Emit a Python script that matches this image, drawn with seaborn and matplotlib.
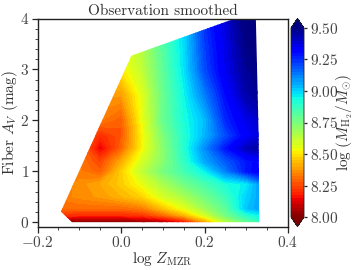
import numpy as np
import matplotlib
matplotlib.use("Agg")
import matplotlib.pyplot as plt
import seaborn as sns
from matplotlib.patches import Polygon

metallicity = [-0.15, -0.10, -0.05, 0.00, 0.05, 0.10, 0.15, 0.20, 0.25, 0.30, 0.35]
extinction = [0.0, 0.14, 0.27, 0.5, 0.75, 1.0, 1.2, 1.45, 1.7, 2.0, 2.5, 3.0, 3.5, 4.0]
row_00 = [8.00, 8.00, 8.00, 8.00, 8.02, 8.05, 8.15, 8.38, 8.62, 8.78, 8.90]
row_01 = [8.22, 8.20, 8.20, 8.20, 8.22, 8.30, 8.42, 8.58, 8.76, 8.90, 8.98]
row_02 = [8.30, 8.30, 8.30, 8.30, 8.33, 8.44, 8.55, 8.68, 8.80, 9.02, 9.10]
row_03 = [8.33, 8.36, 8.38, 8.42, 8.47, 8.58, 8.66, 8.76, 8.86, 9.00, 9.10]
row_04 = [8.33, 8.36, 8.40, 8.46, 8.55, 8.66, 8.76, 8.84, 8.92, 8.96, 9.15]
row_05 = [8.33, 8.33, 8.28, 8.46, 8.62, 8.75, 8.85, 8.95, 9.12, 9.28, 9.36]
row_06 = [8.33, 8.33, 8.24, 8.40, 8.58, 8.72, 8.88, 9.06, 9.18, 9.28, 9.34]
row_07 = [8.33, 8.33, 8.13, 8.29, 8.52, 8.72, 8.90, 9.10, 9.28, 9.42, 9.46]
row_08 = [8.33, 8.33, 8.20, 8.27, 8.52, 8.74, 8.90, 9.04, 9.20, 9.33, 9.40]
row_09 = [8.33, 8.33, 8.33, 8.28, 8.54, 8.78, 8.92, 9.03, 9.25, 9.36, 9.42]
row_10 = [8.33, 8.33, 8.38, 8.38, 8.56, 8.78, 8.94, 9.12, 9.30, 9.44, 9.50]
row_11 = [8.40, 8.45, 8.50, 8.50, 8.62, 8.80, 8.97, 9.20, 9.35, 9.47, 9.52]
row_12 = [8.50, 8.55, 8.55, 8.55, 8.65, 8.82, 8.98, 9.22, 9.36, 9.50, 9.55]
row_13 = [8.55, 8.55, 8.55, 8.55, 8.65, 8.85, 9.00, 9.24, 9.38, 9.52, 9.58]
grid_values = [row_00, row_01, row_02, row_03, row_04, row_05, row_06,
               row_07, row_08, row_09, row_10, row_11, row_12, row_13]

boundary_x = [-0.144, -0.117, 0.331, 0.330, 0.323, 0.273, 0.025]
boundary_y = [0.21, 0.0, 0.0, 1.6, 4.0, 4.0, 3.27]

x_ticks = [-0.2, 0.0, 0.2, 0.4]
x_tick_labels = ["$-0.2$", "$0.0$", "$0.2$", "$0.4$"]
y_ticks = [0, 1, 2, 3, 4]
y_tick_labels = ["$0$", "$1$", "$2$", "$3$", "$4$"]
cbar_ticks = [8.0, 8.25, 8.5, 8.75, 9.0, 9.25, 9.5]
cbar_tick_labels = ["$8.00$", "$8.25$", "$8.50$", "$8.75$", "$9.00$", "$9.25$", "$9.50$"]

sns.set_theme(style="ticks")
plt.rcParams.update({
    "font.family": ["cmr10", "DejaVu Serif"],
    "mathtext.fontset": "cm",
    "axes.formatter.use_mathtext": True,
    "text.color": "#333333",
    "axes.labelcolor": "#333333",
    "xtick.labelcolor": "#444444",
    "ytick.labelcolor": "#444444",
    "axes.edgecolor": "#222222",
    "axes.linewidth": 1.0,
})

fig = plt.figure(figsize=(3.6, 2.7), dpi=100)
ax = fig.add_axes([37.5 / 360, 43.5 / 270, 250.5 / 360, 208.0 / 270])
cax = fig.add_axes([291 / 360, 43.5 / 270, 13 / 360, 208.0 / 270])

cmap = sns.color_palette("jet_r", as_cmap=True)
levels = np.linspace(8.0, 9.5, 61)
cs = ax.contourf(metallicity, extinction, np.array(grid_values), levels=levels,
                 cmap=cmap, extend="both", antialiased=False)
clip = Polygon(np.column_stack([boundary_x, boundary_y]), closed=True,
               transform=ax.transData, facecolor="none", edgecolor="none")
ax.add_patch(clip)
cs.set_clip_path(clip)

ax.set_xlim(-0.2, 0.4)
ax.set_ylim(-0.085, 4.0)
ax.set_xticks(x_ticks, x_tick_labels)
ax.set_yticks(y_ticks, y_tick_labels)
ax.set_xticks(np.arange(-0.2, 0.401, 0.05), minor=True)
ax.set_yticks(np.arange(0, 4.01, 0.2), minor=True)
ax.tick_params(axis="both", which="major", length=4, width=0.9, labelsize=11, pad=2,
               bottom=True, left=True, top=False, right=False)
ax.tick_params(axis="both", which="minor", length=2, width=0.6,
               bottom=True, left=True, top=False, right=False)
ax.set_xlabel(r"$\log\,Z_{\mathrm{MZR}}$", fontsize=11, labelpad=0)
ax.set_ylabel(r"Fiber $A_V$ (mag)", fontsize=11, labelpad=0)
ax.set_title("Observation smoothed", fontsize=11, pad=1.5)

cbar = fig.colorbar(cs, cax=cax, extend="both", ticks=cbar_ticks, drawedges=False)
cbar.ax.set_yticklabels(cbar_tick_labels)
cbar.ax.tick_params(which="major", length=2.5, width=0.9, labelsize=11, pad=2, right=True)
cbar.ax.minorticks_off()
cbar.outline.set_linewidth(0.6)
cbar.set_label(r"$\log\,(M_{\mathrm{H}_2}/M_{\odot})$", fontsize=11, labelpad=-3)

fig.savefig("out.png", dpi=100)
